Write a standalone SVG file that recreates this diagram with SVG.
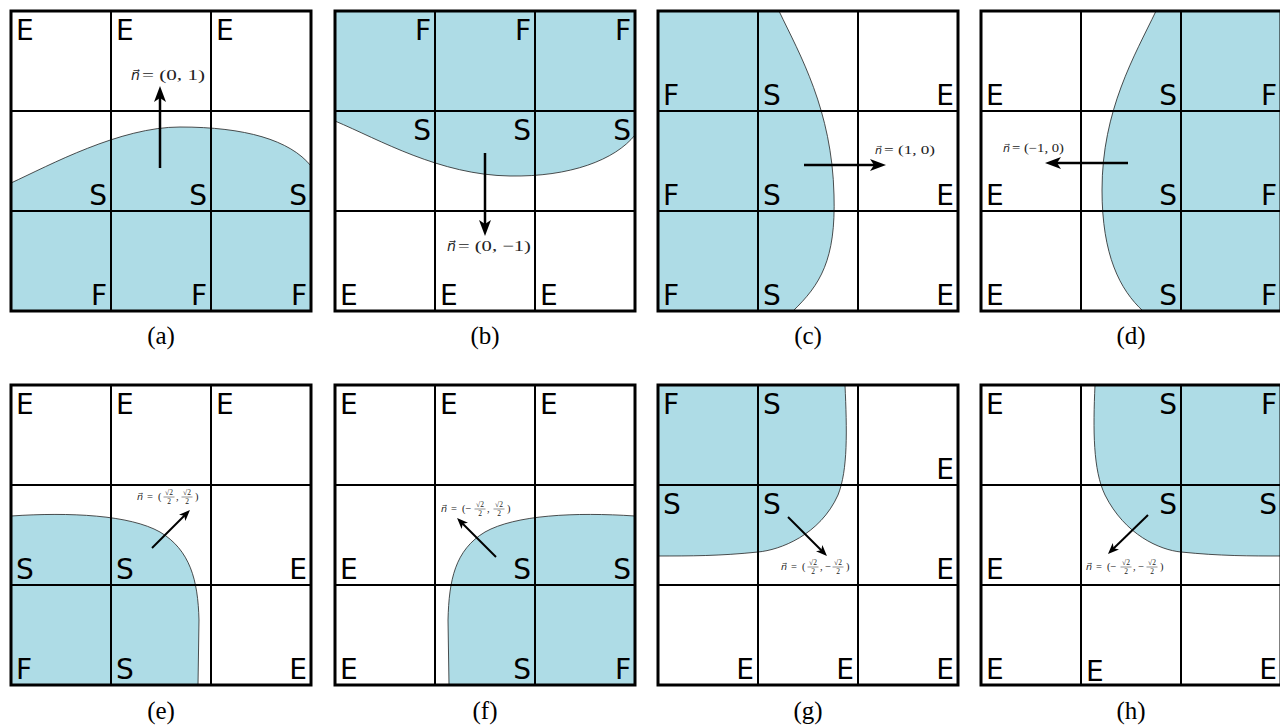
<svg xmlns="http://www.w3.org/2000/svg" width="1280" height="726" viewBox="0 0 1280 726">
<style>
.bg{fill:#fff}
.fl{fill:#AEDCE6;stroke:#222;stroke-width:0.8}
.outer{fill:none;stroke:#000;stroke-width:3}
.inner{stroke:#000;stroke-width:2}
.L{font-family:"DejaVu Sans",sans-serif;font-size:28px;fill:#000}
.e{text-anchor:end}
.cap{font-family:"Liberation Serif",serif;font-size:25px;text-anchor:middle;fill:#000}
.m{font-family:"Liberation Serif",serif;fill:#222}
.nv{font-family:"DejaVu Sans",sans-serif;font-style:oblique;fill:#222}
.fr{font-family:"Liberation Serif",serif;font-size:7.5px;fill:#222;text-anchor:middle}
.bar{stroke:#222;stroke-width:0.5}
.ar{stroke:#000;stroke-width:2.5;fill:none}
.ar2{stroke:#000;stroke-width:2;fill:none}
</style>
<defs>
<marker id="ah" markerUnits="userSpaceOnUse" markerWidth="18" markerHeight="14" refX="6" refY="7" orient="auto">
<path d="M0,1 L16,7 L0,13 L4,7 Z" fill="#000"/>
</marker>
<marker id="ah2" markerUnits="userSpaceOnUse" markerWidth="13" markerHeight="10" refX="4" refY="5" orient="auto">
<path d="M0,0.5 L11,5 L0,9.5 L3,5 Z" fill="#000"/>
</marker>
<g id="grid">
<rect class="outer" x="0" y="0" width="300" height="300"/>
<line class="inner" x1="100" y1="0" x2="100" y2="300"/>
<line class="inner" x1="200" y1="0" x2="200" y2="300"/>
<line class="inner" x1="0" y1="100" x2="300" y2="100"/>
<line class="inner" x1="0" y1="200" x2="300" y2="200"/>
</g>
</defs>
<rect class="bg" x="0" y="0" width="1280" height="726"/>

<g id="panel-a">
<path class="fl" d="M11,183 C50,165 120,127 180,127 C245,127 290,140 311,166 L311,311 L11,311 Z"/>
<use href="#grid" x="11" y="11"/>
<text class="L" x="16" y="40">E</text><text class="L" x="116" y="40">E</text><text class="L" x="216" y="40">E</text>
<text class="L e" x="107" y="205">S</text><text class="L e" x="207" y="205">S</text><text class="L e" x="307" y="205">S</text>
<text class="L e" x="107" y="305">F</text><text class="L e" x="207" y="305">F</text><text class="L e" x="307" y="305">F</text>
<text class="nv" x="131" y="80" font-size="14">n⃗</text>
<text class="m" x="142" y="80" font-size="15" textLength="63" lengthAdjust="spacingAndGlyphs">= (0, 1)</text>
<text class="cap" x="161" y="344">(a)</text>
</g>

<g id="panel-b">
<path class="fl" d="M335,121 C380,140 440,175 510,176 C570,177 615,160 635,135 L635,11 L335,11 Z"/>
<use href="#grid" x="335" y="11"/>
<text class="L e" x="431" y="40">F</text><text class="L e" x="531" y="40">F</text><text class="L e" x="631" y="40">F</text>
<text class="L e" x="431" y="140">S</text><text class="L e" x="531" y="140">S</text><text class="L e" x="631" y="140">S</text>
<text class="L" x="340" y="305">E</text><text class="L" x="440" y="305">E</text><text class="L" x="540" y="305">E</text>
<text class="nv" x="447" y="251" font-size="14">n⃗</text>
<text class="m" x="458" y="251" font-size="15" textLength="73" lengthAdjust="spacingAndGlyphs">= (0, −1)</text>
<text class="cap" x="485" y="344">(b)</text>
</g>

<g id="panel-c">
<path class="fl" d="M779,11 C800,55 832,110 834,195 C836,260 820,285 793,311 L658,311 L658,11 Z"/>
<use href="#grid" x="658" y="11"/>
<text class="L" x="663" y="105">F</text><text class="L" x="663" y="205">F</text><text class="L" x="663" y="305">F</text>
<text class="L" x="763" y="105">S</text><text class="L" x="763" y="205">S</text><text class="L" x="763" y="305">S</text>
<text class="L e" x="954" y="105">E</text><text class="L e" x="954" y="205">E</text><text class="L e" x="954" y="305">E</text>
<text class="nv" x="875" y="154" font-size="11">n⃗</text>
<text class="m" x="884" y="154" font-size="12" textLength="51" lengthAdjust="spacingAndGlyphs">= (1, 0)</text>
<text class="cap" x="808" y="344">(c)</text>
</g>

<g id="panel-d">
<path class="fl" d="M1156,11 C1135,55 1102,110 1102,190 C1102,255 1120,290 1143,311 L1282,311 L1282,11 Z"/>
<use href="#grid" x="981" y="11"/>
<text class="L" x="986" y="105">E</text><text class="L" x="986" y="205">E</text><text class="L" x="986" y="305">E</text>
<text class="L e" x="1177" y="105">S</text><text class="L e" x="1177" y="205">S</text><text class="L e" x="1177" y="305">S</text>
<text class="L e" x="1277" y="105">F</text><text class="L e" x="1277" y="205">F</text><text class="L e" x="1277" y="305">F</text>
<text class="nv" x="1003" y="152" font-size="11">n⃗</text>
<text class="m" x="1012" y="152" font-size="12" textLength="52" lengthAdjust="spacingAndGlyphs">= (−1, 0)</text>
<text class="cap" x="1131" y="344">(d)</text>
</g>

<g id="panel-e">
<path class="fl" d="M11,516 C70,512 130,515 160,532 C190,550 198,580 199,620 L198,685 L11,685 Z"/>
<use href="#grid" x="11" y="385"/>
<text class="L" x="16" y="414">E</text><text class="L" x="116" y="414">E</text><text class="L" x="216" y="414">E</text>
<text class="L" x="16" y="579">S</text><text class="L" x="116" y="579">S</text><text class="L e" x="307" y="579">E</text>
<text class="L" x="16" y="679">F</text><text class="L" x="116" y="679">S</text><text class="L e" x="307" y="679">E</text>
<g>
<text class="nv" x="137" y="500" font-size="9.5">n⃗</text>
<text class="m" x="147" y="500" font-size="10.5">=</text>
<text class="m" x="158" y="500" font-size="10.5">(</text>
<text class="fr" x="169" y="495">√2</text><line class="bar" x1="163.5" y1="497" x2="174.5" y2="497"/><text class="fr" x="169" y="504">2</text>
<text class="m" x="176" y="500" font-size="10.5">,</text>
<text class="fr" x="187" y="495">√2</text><line class="bar" x1="181.5" y1="497" x2="192.5" y2="497"/><text class="fr" x="187" y="504">2</text>
<text class="m" x="195" y="500" font-size="10.5">)</text>
</g>
<text class="cap" x="161" y="719">(e)</text>
</g>

<g id="panel-f">
<path class="fl" d="M635,516 C575,512 515,515 485,532 C455,550 449,580 448,620 L449,685 L635,685 Z"/>
<use href="#grid" x="335" y="385"/>
<text class="L" x="340" y="414">E</text><text class="L" x="440" y="414">E</text><text class="L" x="540" y="414">E</text>
<text class="L" x="340" y="579">E</text><text class="L e" x="531" y="579">S</text><text class="L e" x="631" y="579">S</text>
<text class="L" x="340" y="679">E</text><text class="L e" x="531" y="679">S</text><text class="L e" x="631" y="679">F</text>
<g>
<text class="nv" x="441" y="512" font-size="9.5">n⃗</text>
<text class="m" x="451" y="512" font-size="10.5">=</text>
<text class="m" x="462" y="512" font-size="10.5">(−</text>
<text class="fr" x="480" y="507">√2</text><line class="bar" x1="474.5" y1="509" x2="485.5" y2="509"/><text class="fr" x="480" y="516">2</text>
<text class="m" x="487" y="512" font-size="10.5">,</text>
<text class="fr" x="499" y="507">√2</text><line class="bar" x1="493.5" y1="509" x2="504.5" y2="509"/><text class="fr" x="499" y="516">2</text>
<text class="m" x="507" y="512" font-size="10.5">)</text>
</g>
<text class="cap" x="485" y="719">(f)</text>
</g>

<g id="panel-g">
<path class="fl" d="M845,385 C847,430 848,470 838,495 C820,535 780,550 758,552 C720,556 690,556 658,556 L658,385 Z"/>
<use href="#grid" x="658" y="385"/>
<text class="L" x="663" y="414">F</text><text class="L" x="763" y="414">S</text><text class="L e" x="954" y="479">E</text>
<text class="L" x="663" y="514">S</text><text class="L" x="763" y="514">S</text><text class="L e" x="954" y="579">E</text>
<text class="L e" x="754" y="679">E</text><text class="L e" x="854" y="679">E</text><text class="L e" x="954" y="679">E</text>
<g>
<text class="nv" x="781" y="570" font-size="9.5">n⃗</text>
<text class="m" x="791" y="570" font-size="10.5">=</text>
<text class="m" x="802" y="570" font-size="10.5">(</text>
<text class="fr" x="813" y="565">√2</text><line class="bar" x1="807.5" y1="567" x2="818.5" y2="567"/><text class="fr" x="813" y="574">2</text>
<text class="m" x="820" y="570" font-size="10.5">, −</text>
<text class="fr" x="838" y="565">√2</text><line class="bar" x1="832.5" y1="567" x2="843.5" y2="567"/><text class="fr" x="838" y="574">2</text>
<text class="m" x="846" y="570" font-size="10.5">)</text>
</g>
<text class="cap" x="808" y="719">(g)</text>
</g>

<g id="panel-h">
<path class="fl" d="M1095,385 C1093,430 1093,470 1105,495 C1125,535 1160,550 1181,552 C1220,556 1250,556 1282,556 L1282,385 Z"/>
<use href="#grid" x="981" y="385"/>
<text class="L" x="986" y="414">E</text><text class="L e" x="1177" y="414">S</text><text class="L e" x="1277" y="414">F</text>
<text class="L" x="986" y="579">E</text><text class="L e" x="1177" y="514">S</text><text class="L e" x="1277" y="514">S</text>
<text class="L" x="986" y="679">E</text><text class="L" x="1086" y="681">E</text><text class="L e" x="1277" y="679">E</text>
<g>
<text class="nv" x="1086" y="570" font-size="9.5">n⃗</text>
<text class="m" x="1096" y="570" font-size="10.5">=</text>
<text class="m" x="1107" y="570" font-size="10.5">(−</text>
<text class="fr" x="1126" y="565">√2</text><line class="bar" x1="1120.5" y1="567" x2="1131.5" y2="567"/><text class="fr" x="1126" y="574">2</text>
<text class="m" x="1133" y="570" font-size="10.5">, −</text>
<text class="fr" x="1152" y="565">√2</text><line class="bar" x1="1146.5" y1="567" x2="1157.5" y2="567"/><text class="fr" x="1152" y="574">2</text>
<text class="m" x="1160" y="570" font-size="10.5">)</text>
</g>
<text class="cap" x="1131" y="719">(h)</text>
</g>

<g id="connectors">
<line class="ar" x1="160" y1="168" x2="160" y2="96" marker-end="url(#ah)"/>
<line class="ar" x1="485" y1="153" x2="485" y2="226" marker-end="url(#ah)"/>
<line class="ar" x1="804" y1="165" x2="876" y2="165" marker-end="url(#ah)"/>
<line class="ar" x1="1128" y1="163" x2="1055" y2="163" marker-end="url(#ah)"/>
<line class="ar2" x1="152" y1="548" x2="185" y2="515" marker-end="url(#ah2)"/>
<line class="ar2" x1="496" y1="557" x2="462" y2="523" marker-end="url(#ah2)"/>
<line class="ar2" x1="788" y1="517" x2="822" y2="551" marker-end="url(#ah2)"/>
<line class="ar2" x1="1148" y1="515" x2="1113" y2="549" marker-end="url(#ah2)"/>
</g>
</svg>
